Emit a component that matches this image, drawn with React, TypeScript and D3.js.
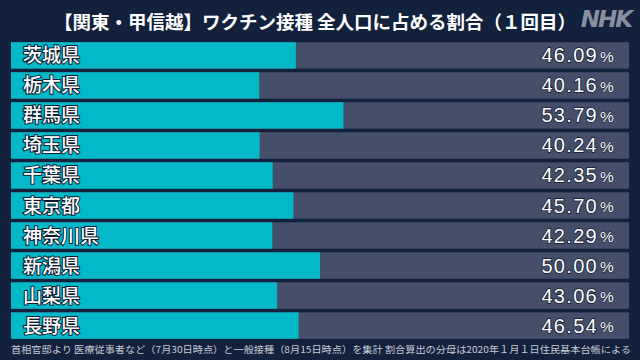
import * as d3 from "d3";

const prefectures = ["茨城県", "栃木県", "群馬県", "埼玉県", "千葉県", "東京都", "神奈川県", "新潟県", "山梨県", "長野県"];
const rates = [46.09, 40.16, 53.79, 40.24, 42.35, 45.7, 42.29, 50.0, 43.06, 46.54];
const title = "【関東・甲信越】ワクチン接種 全人口に占める割合（１回目）";
const note =
  "首相官邸より 医療従事者など（7月30日時点）と一般接種（8月15日時点）を集計 割合算出の分母は2020年１月１日住民基本台帳による";

const W = 640;
const H = 360;
const font = "'Noto Sans CJK JP', 'Noto Sans', sans-serif";

export default function App() {
  const x = d3.scaleLinear().domain([0, 100]).range([11, 629]);
  const y = d3.scaleBand().domain(prefectures).range([41, 340]).paddingInner(0.12).paddingOuter(0.04);

  return (
    <svg width={W} height={H} style={{ position: "absolute", left: 0, top: 0 }}>
      <rect width={W} height={H} fill="#12223d" />
      <text x={315} y={29} textAnchor="middle" fill="#fff" fontFamily={font} fontSize={18.5} fontWeight={700}>
        {title}
      </text>
      <text x={606} y={27} textAnchor="middle" fill="#fff" fillOpacity={0.5} fontFamily="'DejaVu Sans', sans-serif"
        fontSize={23} fontWeight={700} fontStyle="italic" letterSpacing={-2}>
        NHK
      </text>
      {prefectures.map((p, i) => {
        const top = y(p)!;
        const h = y.bandwidth();
        return (
          <g key={p}>
            <rect x={x(0)} y={top} width={x(100) - x(0)} height={h} fill="#454f69" />
            <rect x={x(0)} y={top} width={x(rates[i]) - x(0)} height={h} fill="#03b8c9" />
            <text x={23} y={top + h / 2 + 7} fill="#fff" stroke="#0c1a30" strokeWidth={2} paintOrder="stroke"
              fontFamily={font} fontSize={19} fontWeight={500}>
              {p}
            </text>
            <text x={598} y={top + h / 2 + 7} textAnchor="end" fill="#fff" stroke="#0c1a30" strokeWidth={1.5}
              paintOrder="stroke" fontFamily="'Liberation Sans', Arial, sans-serif" fontSize={20} letterSpacing={1.3}>
              {rates[i].toFixed(2)}
            </text>
            <text x={600} y={top + h / 2 + 6.5} fill="#fff" stroke="#0c1a30" strokeWidth={1}
              paintOrder="stroke" fontFamily="'Liberation Sans', Arial, sans-serif" fontSize={15.5}>
              %
            </text>
          </g>
        );
      })}
      <text x={321} y={353} textAnchor="middle" fill="#c8ccd4" fontFamily={font} fontSize={9.6}
        textLength={620} lengthAdjust="spacingAndGlyphs">
        {note}
      </text>
    </svg>
  );
}
